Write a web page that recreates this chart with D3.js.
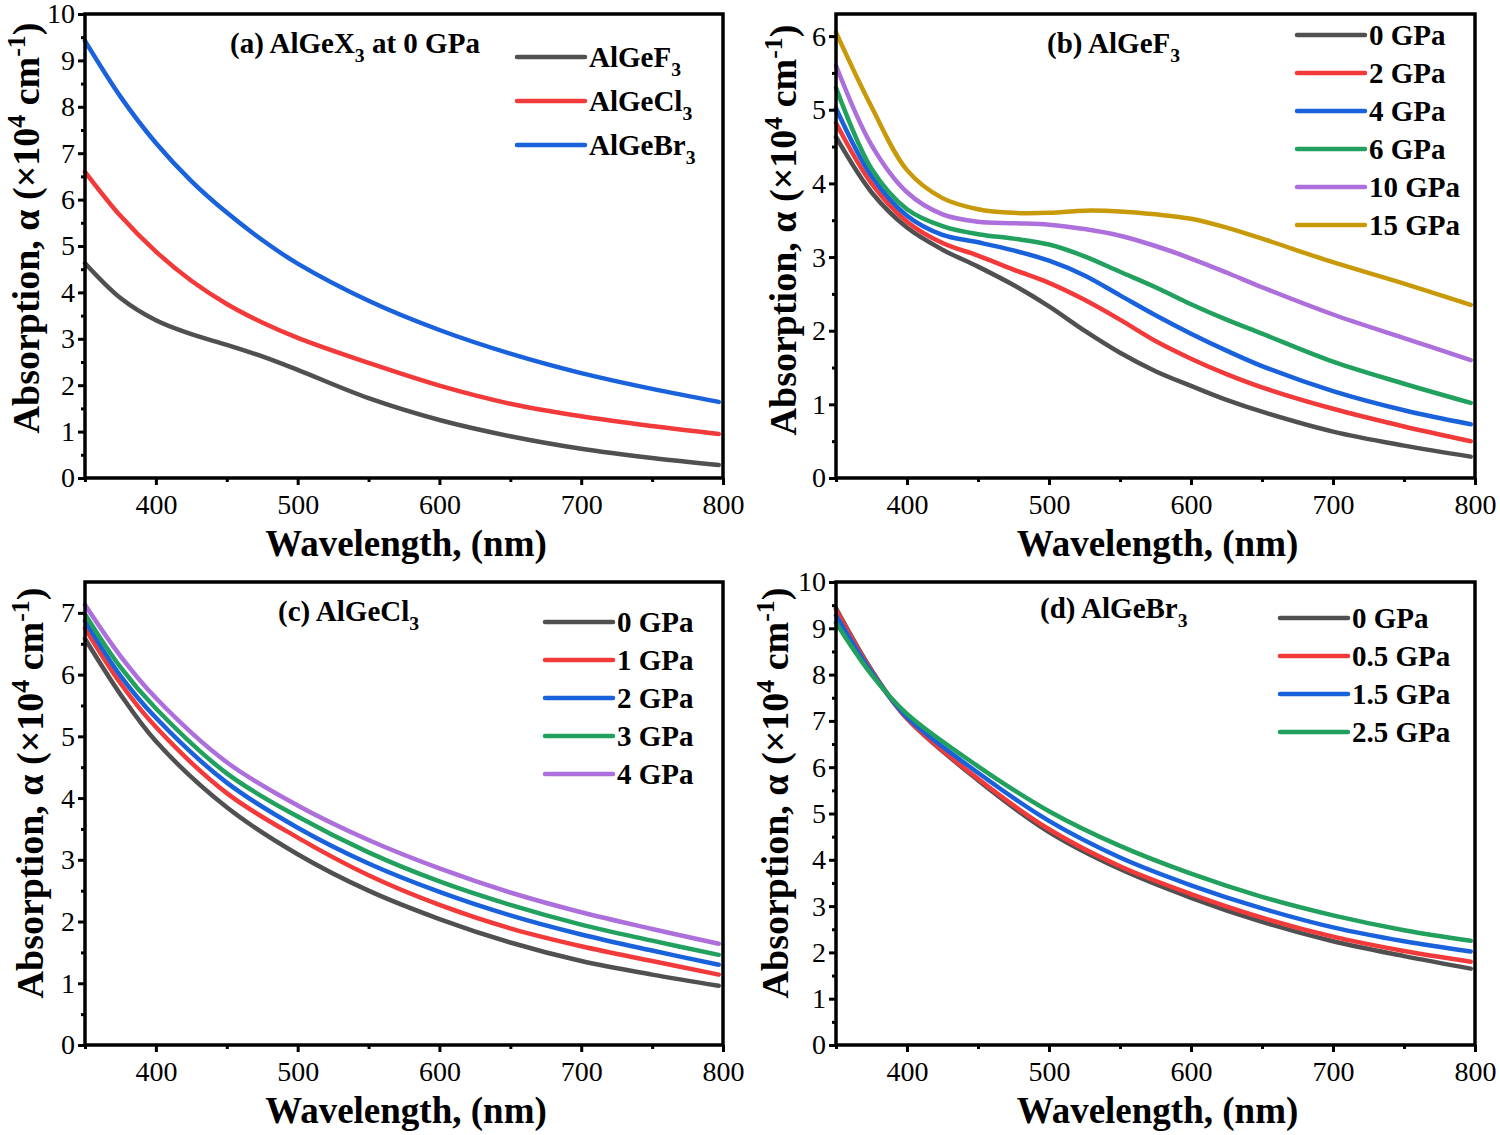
<!DOCTYPE html>
<html>
<head>
<meta charset="utf-8">
<script src="https://cdnjs.cloudflare.com/ajax/libs/d3/7.8.5/d3.min.js"></script>
<style>
    body { margin: 0; background: #fff; }
    svg text { font-family: "Liberation Serif", "Times New Roman", serif; fill: #000; }
</style>
</head>
<body>
<div id="chart"></div>
<script>
// Dados (absorção em 10^4 cm^-1)

// (a) AlGeX3 a 0 GPa
const wlA = [350, 375, 400, 425, 450, 475, 500, 550, 600, 650, 700, 750, 797];
const aF3  = [4.63, 3.88, 3.40, 3.10, 2.87, 2.62, 2.33, 1.72, 1.25, 0.90, 0.63, 0.43, 0.28];
const aCl3 = [6.60, 5.65, 4.88, 4.25, 3.75, 3.35, 3.02, 2.48, 1.99, 1.60, 1.33, 1.12, 0.95];
const aBr3 = [9.42, 8.22, 7.22, 6.40, 5.72, 5.13, 4.62, 3.82, 3.19, 2.68, 2.26, 1.92, 1.64];
const namesA = ['AlGeF', 'AlGeCl', 'AlGeBr'];

// (b) AlGeF3 sob pressão
const wlB = [350, 375, 400, 425, 450, 475, 500, 525, 550, 575, 600, 625, 650, 700, 750, 797];
const bP0  = [4.63, 3.88, 3.40, 3.10, 2.87, 2.62, 2.33, 2.00, 1.70, 1.45, 1.25, 1.06, 0.90, 0.63, 0.44, 0.29];
const bP2  = [4.82, 4.00, 3.48, 3.19, 3.02, 2.83, 2.65, 2.42, 2.15, 1.86, 1.62, 1.41, 1.23, 0.94, 0.70, 0.50];
const bP4  = [5.02, 4.10, 3.56, 3.30, 3.20, 3.09, 2.95, 2.75, 2.48, 2.21, 1.96, 1.73, 1.52, 1.18, 0.92, 0.73];
const bP6  = [5.30, 4.20, 3.65, 3.42, 3.31, 3.25, 3.17, 3.01, 2.80, 2.59, 2.36, 2.15, 1.96, 1.58, 1.28, 1.02];
const bP10 = [5.60, 4.52, 3.88, 3.58, 3.48, 3.46, 3.44, 3.38, 3.29, 3.15, 2.98, 2.79, 2.59, 2.22, 1.90, 1.60];
const bP15 = [6.05, 5.04, 4.18, 3.80, 3.65, 3.60, 3.60, 3.63, 3.62, 3.58, 3.52, 3.40, 3.25, 2.93, 2.64, 2.35];
const pressB = ['0 GPa', '2 GPa', '4 GPa', '6 GPa', '10 GPa', '15 GPa'];

// (c) AlGeCl3 sob pressão
const wlC = [350, 375, 400, 450, 500, 550, 600, 650, 700, 750, 797];
const cP0 = [6.58, 5.68, 4.92, 3.85, 3.09, 2.50, 2.04, 1.66, 1.36, 1.14, 0.96];
const cP1 = [6.75, 5.86, 5.15, 4.08, 3.36, 2.75, 2.27, 1.89, 1.60, 1.36, 1.14];
const cP2 = [6.87, 5.98, 5.30, 4.25, 3.52, 2.94, 2.48, 2.10, 1.79, 1.53, 1.30];
const cP3 = [6.98, 6.12, 5.45, 4.40, 3.70, 3.12, 2.65, 2.27, 1.95, 1.69, 1.46];
const cP4 = [7.13, 6.30, 5.62, 4.58, 3.88, 3.32, 2.86, 2.47, 2.15, 1.88, 1.64];
const pressC = ['0 GPa', '1 GPa', '2 GPa', '3 GPa', '4 GPa'];

// (d) AlGeBr3 sob pressão
const wlD = [350, 375, 400, 450, 500, 550, 600, 650, 700, 750, 797];
const dP0  = [9.43, 8.10, 7.05, 5.72, 4.60, 3.80, 3.18, 2.66, 2.24, 1.92, 1.65];
const dP05 = [9.40, 8.08, 7.05, 5.75, 4.66, 3.86, 3.26, 2.75, 2.34, 2.03, 1.80];
const dP15 = [9.28, 8.05, 7.08, 5.88, 4.84, 4.05, 3.45, 2.95, 2.54, 2.24, 2.02];
const dP25 = [9.12, 8.00, 7.15, 6.02, 5.05, 4.30, 3.70, 3.20, 2.80, 2.48, 2.25];
const pressD = ['0 GPa', '0.5 GPa', '1.5 GPa', '2.5 GPa'];

const xTicks = [400, 500, 600, 700, 800];
const xMinor = [350, 450, 550, 650, 750];

const palette = ['#505050', '#f23a3a', '#1a62dc', '#22a05e', '#ad6fdc', '#c89a0a'];

// Texto com subscrito / sobrescrito
function richText(sel, parts, size) {
    let cur = 0;
    parts.forEach(p => {
        const [t, k] = Array.isArray(p) ? p : [p, null];
        const target = k === 'sub' ? size * 0.3 : k === 'sup' ? -size * 0.38 : 0;
        const ts = sel.append('tspan').attr('dy', target - cur).text(t);
        if (k) ts.style('font-size', (size * 0.68) + 'px');
        cur = target;
    });
}

const panels = [
    {
        box: {left: 85, right: 723, top: 14, bottom: 478}, yMax: 10, yTicks: d3.range(0, 11),
        wl: wlA,
        series: [aF3, aCl3, aBr3].map((v, i) => ({values: v, color: palette[i], label: [namesA[i], ['3', 'sub']]})),
        title: ['(a) AlGeX', ['3', 'sub'], ' at 0 GPa'], titlePos: [230, 53],
        legend: {x: 517, y: 57, dy: 44}, yTitleX: 39, yTitleCenter: 228
    },
    {
        box: {left: 836, right: 1475, top: 14, bottom: 478}, yMax: 6.3, yTicks: d3.range(0, 7),
        wl: wlB,
        series: [bP0, bP2, bP4, bP6, bP10, bP15].map((v, i) => ({values: v, color: palette[i], label: [pressB[i]]})),
        title: ['(b) AlGeF', ['3', 'sub']], titlePos: [1047, 53],
        legend: {x: 1297, y: 35, dy: 38}, yTitleX: 796, yTitleCenter: 230
    },
    {
        box: {left: 85, right: 723, top: 582, bottom: 1045}, yMax: 7.5, yTicks: d3.range(0, 8),
        wl: wlC,
        series: [cP0, cP1, cP2, cP3, cP4].map((v, i) => ({values: v, color: palette[i], label: [pressC[i]]})),
        title: ['(c) AlGeCl', ['3', 'sub']], titlePos: [278, 621],
        legend: {x: 545, y: 622, dy: 38}, yTitleX: 43, yTitleCenter: 793
    },
    {
        box: {left: 836, right: 1475, top: 582, bottom: 1045}, yMax: 10, yTicks: d3.range(0, 11),
        wl: wlD,
        series: [dP0, dP05, dP15, dP25].map((v, i) => ({values: v, color: palette[i], label: [pressD[i]]})),
        title: ['(d) AlGeBr', ['3', 'sub']], titlePos: [1040, 618],
        legend: {x: 1280, y: 618, dy: 38}, yTitleX: 788, yTitleCenter: 793
    }
];

const svg = d3.select('#chart').append('svg')
    .attr('width', 1500)
    .attr('height', 1135);

panels.forEach(p => {
    const b = p.box;
    const x = d3.scaleLinear().domain([350, 800]).range([b.left, b.right]);
    const y = d3.scaleLinear().domain([0, p.yMax]).range([b.bottom, b.top]);
    const g = svg.append('g');

    // Curvas
    const line = d3.line()
        .x(d => x(d[0]))
        .y(d => y(d[1]))
        .curve(d3.curveCatmullRom.alpha(0.5));

    p.series.forEach(s => {
        g.append('path')
            .datum(p.wl.map((w, i) => [w, s.values[i]]))
            .attr('d', line)
            .attr('fill', 'none')
            .attr('stroke', s.color)
            .attr('stroke-width', 4.5)
            .attr('stroke-linecap', 'round');
    });

    // Eixos (ticks para fora)
    const xAxis = g.append('g')
        .attr('transform', `translate(0,${b.bottom})`)
        .call(d3.axisBottom(x).tickValues(xTicks).tickSize(7).tickSizeOuter(0).tickPadding(5));
    g.append('g')
        .attr('transform', `translate(0,${b.bottom})`)
        .call(d3.axisBottom(x).tickValues(xMinor).tickSize(4).tickFormat(''));
    g.append('g')
        .attr('transform', `translate(${b.left},0)`)
        .call(d3.axisLeft(y).tickValues(p.yTicks).tickFormat(d3.format('d')).tickSize(7).tickSizeOuter(0).tickPadding(3));
    g.append('g')
        .attr('transform', `translate(${b.left},0)`)
        .call(d3.axisLeft(y).tickValues(p.yTicks.slice(0, -1).map(v => v + 0.5)).tickSize(4).tickFormat(''));

    g.selectAll('.domain').remove();
    g.selectAll('.tick line').attr('stroke', '#000').attr('stroke-width', 3);
    g.selectAll('.tick text')
        .style('font-family', '"Liberation Serif", "Times New Roman", serif')
        .style('font-size', '28px');
    xAxis.selectAll('.tick text').attr('dy', '0.85em');

    // Moldura
    g.append('rect')
        .attr('x', b.left)
        .attr('y', b.top)
        .attr('width', b.right - b.left)
        .attr('height', b.bottom - b.top)
        .attr('fill', 'none')
        .attr('stroke', '#000')
        .attr('stroke-width', 3.5);

    // Título do painel
    const t = g.append('text')
        .attr('x', p.titlePos[0])
        .attr('y', p.titlePos[1])
        .style('font-size', '29px')
        .style('font-weight', 'bold');
    richText(t, p.title, 29);

    // Legenda
    p.series.forEach((s, i) => {
        const ly = p.legend.y + i * p.legend.dy;
        g.append('line')
            .attr('x1', p.legend.x)
            .attr('x2', p.legend.x + 68)
            .attr('y1', ly)
            .attr('y2', ly)
            .attr('stroke', s.color)
            .attr('stroke-width', 4.5)
            .attr('stroke-linecap', 'round');
        const lt = g.append('text')
            .attr('x', p.legend.x + 72)
            .attr('y', ly + 10)
            .style('font-size', '29px')
            .style('font-weight', 'bold');
        richText(lt, s.label, 29);
    });

    // Títulos dos eixos
    g.append('text')
        .attr('x', (b.left + b.right) / 2 + 2)
        .attr('y', b.bottom + 78)
        .style('text-anchor', 'middle')
        .style('font-size', '37px')
        .style('font-weight', 'bold')
        .text('Wavelength, (nm)');

    const yt = g.append('text')
        .attr('transform', `translate(${p.yTitleX},${p.yTitleCenter}) rotate(-90)`)
        .style('text-anchor', 'middle')
        .style('font-size', '38px')
        .style('font-weight', 'bold');
    richText(yt, ['Absorption, \u03b1 (\u00d710', ['4', 'sup'], ' cm', ['-1', 'sup'], ')'], 38);
});
</script>
</body>
</html>
